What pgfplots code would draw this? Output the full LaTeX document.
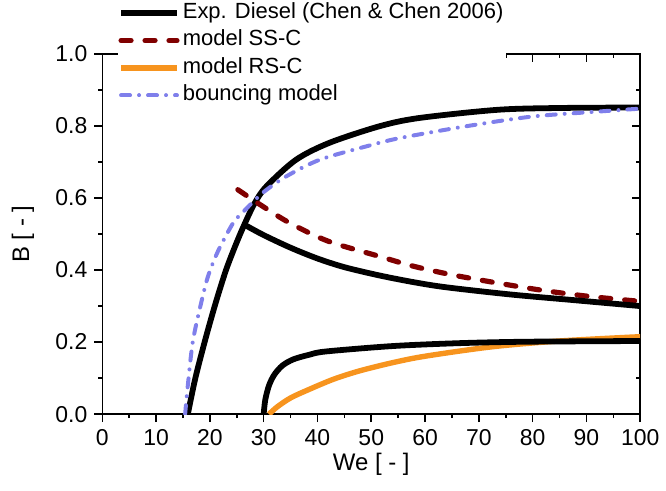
\documentclass[border=0pt]{standalone}
\usepackage{fontspec}
\setmainfont{Liberation Sans}
\usepackage{pgfplots}
\pgfplotsset{compat=1.18}
\definecolor{SSred}{HTML}{800000}
\definecolor{RSorange}{HTML}{F7941E}
\definecolor{BncBlue}{HTML}{7F7FEB}

\pgfplotsset{
  frame/.style={
    scale only axis, width=269.5pt, height=180.5pt,
    xmin=0, xmax=100, ymin=0, ymax=1,
    xtick={0,10,...,100}, ytick={0,0.2,0.4,0.6,0.8,1.0},
    minor x tick num=1, minor y tick num=1,
    major tick length=4pt, minor tick length=2pt,
    axis line style={line width=0.8pt},
    every tick/.style={line width=0.8pt, black},
  },
}

\begin{document}
\begin{tikzpicture}
% top and right ticks point inward
\begin{axis}[frame, xtick pos=right, ytick pos=right, tick align=inside,
  xticklabels={}, yticklabels={}]
\end{axis}

\begin{axis}[frame, xtick pos=left, ytick pos=left, tick align=outside,
  /pgf/number format/assume math mode=true,
  y tick label style={/pgf/number format/.cd, fixed, fixed zerofill, precision=1, /tikz/.cd},
  tick label style={font=\fontsize{11.5}{13}\selectfont},
  label style={font=\fontsize{12}{14}\selectfont},
  xlabel={We [ - ]}, ylabel={B [ - ]},
  xlabel style={at={(axis description cs:0.5,-0.1385)}, anchor=center},
  ylabel style={at={(axis description cs:-0.1475,0.5)}, anchor=center},
  legend cell align=left,
  legend image code/.code={\draw[#1] (0pt,0pt) -- (28pt,0pt);},
  legend style={at={(0.0288,1.144)}, anchor=north west, fill=white, draw=none,
    inner sep=0pt, row sep=3pt, font=\fontsize{11}{13}\selectfont,
    nodes={inner xsep=1.5pt, inner ysep=0pt, text height=8pt, text depth=2.75pt}},
]
% experimental boundaries
\addplot[black, line width=2.9pt, smooth, tension=0.5] coordinates {
  (15.9,0) (17.3,0.10) (19.2,0.21) (21.1,0.31) (23.0,0.40) (24.8,0.47)
  (26.4,0.526) (28.3,0.585) (30.5,0.632) (36.0,0.706) (42.2,0.753)
  (51.5,0.799) (58.9,0.822) (73.7,0.845) (86.1,0.850) (100,0.851)
};
\addlegendentry{Exp. Diesel (Chen \& Chen 2006)}
\addplot[SSred, line width=2.6pt, line cap=round, dash pattern=on 5pt off 7pt,
  smooth, tension=0.5] coordinates {
  (25.2,0.623) (29.5,0.580) (34.8,0.531) (42.0,0.480) (51.5,0.438) (58.0,0.410)
  (66.3,0.383) (79.9,0.348) (89.8,0.328) (100,0.313)
};
\addlegendentry{model SS-C}
\addplot[RSorange, line width=2.7pt, smooth, tension=0.5] coordinates {
  (31.0,0) (32.5,0.020) (35.0,0.045) (38.5,0.069) (43.0,0.097) (47.8,0.120)
  (54.0,0.143) (60.1,0.161) (72.5,0.187) (84.9,0.203) (100,0.215)
};
\addlegendentry{model RS-C}
\addplot[BncBlue, line width=2pt, line cap=round,
  dash pattern=on 4.5pt off 4.5pt on 0.01pt off 4.5pt, smooth, tension=0.5] coordinates {
  (15.4,0) (15.9,0.08) (16.8,0.199) (18.1,0.291) (19.6,0.38) (21.5,0.452)
  (24.3,0.530) (26.1,0.560) (29.8,0.614) (34.2,0.660) (40.4,0.706) (49.0,0.743)
  (55.2,0.766) (67.6,0.799) (79.9,0.826) (92.3,0.840) (100,0.848)
};
\addlegendentry{bouncing model}
\addplot[black, line width=2.9pt, smooth, tension=0.5, forget plot] coordinates {
  (26.4,0.526) (30,0.497) (35,0.462) (40,0.432) (45,0.408) (51.5,0.385)
  (58,0.366) (64,0.352) (76,0.332) (88,0.316) (100,0.300)
};
\addplot[black, line width=2.9pt, smooth, tension=0.5, forget plot] coordinates {
  (30.0,0) (30.3,0.04) (31.0,0.08) (32.0,0.11) (33.5,0.135) (35.5,0.152)
  (38.5,0.165) (41.6,0.174) (54.0,0.189) (66.3,0.197) (78.7,0.201) (100,0.203)
};
\coordinate (bbl) at (rel axis cs:-0.1902,-0.2133);
\coordinate (btr) at (rel axis cs:1.0455,1.1496);
\end{axis}
\path (bbl) rectangle (btr);
\end{tikzpicture}
\end{document}
